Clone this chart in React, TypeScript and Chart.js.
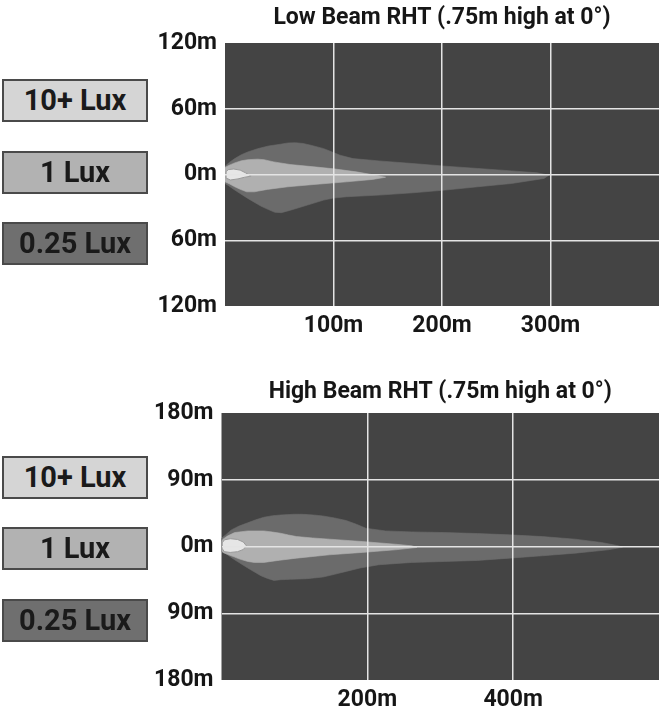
import React, { useEffect, useRef } from 'react';
import { Chart, registerables } from 'chart.js';

Chart.register(...registerables);

const FONT = "Roboto, 'Liberation Sans', sans-serif";

// ---------- Low beam data ----------
const lowTitle = 'Low Beam RHT (.75m high at 0°)';
const lowXTicks = [0, 100, 200, 300, 400];
const lowYTicks = [-120, -60, 0, 60, 120];
const low025: [number, number][] = [
  [0, 7.5], [4, 11], [9, 14.5], [15, 18], [21, 20.6], [30, 23.5], [40, 26], [51, 27.6], [58, 28.8], [65, 29],
  [72, 28.3], [80, 26.5], [91, 23.6], [100, 20], [106, 17.6], [118, 14.5], [142, 12.4], [173, 10], [203, 7.6],
  [233, 5.5], [264, 3.3], [288, 1.5], [298.5, -0.6],
  [294, -3.6], [264, -8.2], [233, -11.2], [203, -14.2], [173, -16.7], [142, -18.8], [112, -20.3], [100, -21.5],
  [91, -23.3], [76, -27.9], [61, -32.4], [52, -34.8], [46, -34.5], [40, -32], [33, -28.8], [21, -21.8], [9, -14.2],
  [3, -10], [0, -8.2],
];
const low1: [number, number][] = [
  [0, 6.5], [4, 8.5], [9, 10.6], [15, 12.5], [21, 13.5], [30, 14], [36, 13.5], [45, 11.5], [60, 9.1], [82, 7],
  [100, 5.2], [121, 2.4], [138, -0.5], [148, -2.5],
  [136, -4.5], [112, -6.7], [82, -9.1], [58, -11.2], [39, -13.6], [27, -15.8], [20, -15.8], [14, -13.5], [9, -11.2],
  [4, -8.5], [0, -6.7],
];
const low10: [number, number][] = [
  [1, 2.5], [3, 4.5], [8, 5], [14, 4], [19, 1.5], [24, -1.5], [18, -2.5], [12, -4], [5, -5], [1.5, -3.5],
];

// ---------- High beam data ----------
const highTitle = 'High Beam RHT (.75m high at 0°)';
const highXTicks = [0, 200, 400, 600];
const highYTicks = [-180, -90, 0, 90, 180];
const high025: [number, number][] = [
  [0, 11], [6, 16], [13.5, 22.4], [24, 27.5], [36, 32], [47, 36], [58, 39.4], [70, 41.5], [81, 42.5], [100, 43.5],
  [112, 43.4], [126, 42.5], [139, 41.2], [155, 38.5], [171, 35], [185, 30], [198, 24.6], [225, 21], [261, 19.7],
  [306, 18.8], [351, 17.5], [395, 15.7], [440, 13.4], [485, 9.9], [521, 5.4], [544, 1], [550, -1],
  [530, -4.5], [485, -9], [440, -12.5], [395, -15.7], [351, -18.8], [306, -20.2], [261, -21.5], [216, -24.6],
  [190, -29], [171, -33.6], [155, -37.5], [139, -41.2], [117, -43.4], [95, -44.2], [81, -44.8], [72, -45.7],
  [63, -43], [54, -39.4], [36, -29], [18, -17.9], [8, -11], [0, -6.7],
];
const high1: [number, number][] = [
  [0, 7], [2, 9.9], [8, 14], [18, 18.8], [36, 21], [58, 21], [70, 19.5], [81, 17.9], [92, 15.5], [103, 13.4],
  [125, 11.5], [148, 9.9], [193, 6.7], [238, 3.1], [261, 0.9], [268, -1.3],
  [238, -4.5], [193, -8], [148, -11.2], [103, -15.7], [80, -18.5], [58, -21.5], [45, -21.5], [36, -20.2],
  [25, -17], [18, -14.3], [8, -10.5], [2, -8], [0, -6],
];
const high10: [number, number][] = [
  [1, 5], [4, 9], [12, 10.5], [22, 9.5], [30, 6], [34, 1], [30, -4], [22, -7], [12, -8], [4, -7], [1, -3],
];

const legendLabels = ['10+ Lux', '1 Lux', '0.25 Lux'];

// ---------- styles ----------
const ZONE_COLORS = ['#e6e6e6', '#b0b0b0', '#6b6b6b'];
const LEGEND_COLORS = ['#d5d5d5', '#b2b2b2', '#6f6f6f'];
const PLOT_BG = '#444444';
const GRID = '#e4e4e4';

const plotBg = {
  id: 'plotBg',
  beforeDraw(chart: any) {
    const { ctx, chartArea: a } = chart;
    ctx.save();
    ctx.fillStyle = PLOT_BG;
    ctx.fillRect(a.left, a.top, a.right - a.left, a.bottom - a.top);
    ctx.restore();
  },
};

const closed = (pts: [number, number][]) => [...pts, pts[0]].map(([x, y]) => ({ x, y }));

interface BeamProps {
  title: string;
  xTicks: number[];
  yTicks: number[];
  zones: [number, number][][]; // [10+, 1, 0.25]
  box: { left: number; top: number; width: number; height: number };
  yAxisWidth: number;
  xAxisHeight: number;
  titlePad: { top: number; bottom: number };
}

function BeamChart(p: BeamProps) {
  const ref = useRef<HTMLCanvasElement | null>(null);
  useEffect(() => {
    if (!ref.current) return;
    const xMin = p.xTicks[0];
    const xMax = p.xTicks[p.xTicks.length - 1];
    const yMin = p.yTicks[0];
    const yMax = p.yTicks[p.yTicks.length - 1];
    const tickFont = { family: FONT, size: 23, weight: 'bold' as const };
    const chart = new Chart(ref.current, {
      type: 'scatter',
      data: {
        datasets: p.zones.map((z, i) => ({
          label: legendLabels[i],
          data: closed(z),
          showLine: true,
          fill: 'shape',
          backgroundColor: ZONE_COLORS[i],
          borderColor: i === 0 ? '#9a9a9a' : ZONE_COLORS[i],
          borderWidth: i === 0 ? 1 : 0.6,
          pointRadius: 0,
          tension: 0,
          order: i + 1,
        })) as any,
      },
      options: {
        animation: false,
        responsive: true,
        maintainAspectRatio: false,
        layout: { padding: 0 },
        plugins: {
          legend: { display: false },
          tooltip: { enabled: false },
          title: {
            display: true,
            text: p.title,
            fullSize: false,
            color: '#161616',
            font: { family: FONT, size: 23, weight: 'bold' },
            padding: p.titlePad,
          },
        },
        scales: {
          x: {
            type: 'linear',
            min: xMin,
            max: xMax,
            afterBuildTicks: (s: any) => {
              s.ticks = p.xTicks.map((v) => ({ value: v }));
            },
            afterFit: (s: any) => {
              s.height = p.xAxisHeight;
            },
            border: { display: false },
            grid: {
              z: 1,
              drawTicks: false,
              lineWidth: 1.5,
              color: (c: any) =>
                c.tick && (c.tick.value === xMin || c.tick.value === xMax) ? 'rgba(0,0,0,0)' : GRID,
            },
            ticks: {
              padding: 6,
              color: '#161616',
              font: tickFont,
              autoSkip: false,
              maxRotation: 0,
              callback: (v: any) => (v === xMin || v === xMax ? '' : `${v}m`),
            },
          },
          y: {
            type: 'linear',
            min: yMin,
            max: yMax,
            afterBuildTicks: (s: any) => {
              s.ticks = p.yTicks.map((v) => ({ value: v }));
            },
            afterFit: (s: any) => {
              s.width = p.yAxisWidth;
            },
            border: { display: false },
            grid: {
              z: 1,
              drawTicks: false,
              lineWidth: 1.5,
              color: (c: any) =>
                c.tick && (c.tick.value === yMin || c.tick.value === yMax) ? 'rgba(0,0,0,0)' : GRID,
            },
            ticks: {
              padding: 8,
              color: '#161616',
              font: tickFont,
              autoSkip: false,
              callback: (v: any) => `${Math.abs(Number(v))}m`,
            },
          },
        },
      },
      plugins: [plotBg],
    });
    return () => chart.destroy();
  }, []);
  return (
    <div
      style={{
        position: 'absolute',
        left: p.box.left,
        top: p.box.top,
        width: p.box.width,
        height: p.box.height,
      }}
    >
      <canvas ref={ref} />
    </div>
  );
}

function Legend({ tops }: { tops: number[] }) {
  return (
    <>
      {legendLabels.map((label, i) => (
        <div
          key={label}
          style={{
            position: 'absolute',
            left: 2,
            top: tops[i],
            width: 146,
            height: 43,
            boxSizing: 'border-box',
            border: '2px solid #4a4a4a',
            background: LEGEND_COLORS[i],
            display: 'flex',
            alignItems: 'center',
            justifyContent: 'center',
            fontFamily: FONT,
            fontWeight: 'bold',
            fontSize: 29,
            color: '#1a1a1a',
            lineHeight: 1,
          }}
        >
          {label}
        </div>
      ))}
    </>
  );
}

export default function App() {
  return (
    <div
      style={{
        position: 'absolute',
        left: 0,
        top: 0,
        width: 665,
        height: 713,
        background: '#ffffff',
        overflow: 'hidden',
      }}
    >
      <BeamChart
        title={lowTitle}
        xTicks={lowXTicks}
        yTicks={lowYTicks}
        zones={[low10, low1, low025]}
        box={{ left: 145, top: 0, width: 520, height: 345 }}
        yAxisWidth={80}
        xAxisHeight={39}
        titlePad={{ top: 4, bottom: 11.4 }}
      />
      <Legend tops={[79, 151, 222]} />
      <BeamChart
        title={highTitle}
        xTicks={highXTicks}
        yTicks={highYTicks}
        zones={[high10, high1, high025]}
        box={{ left: 145, top: 370, width: 520, height: 343 }}
        yAxisWidth={76.5}
        xAxisHeight={33}
        titlePad={{ top: 8, bottom: 7.4 }}
      />
      <Legend tops={[456, 527, 599]} />
    </div>
  );
}
